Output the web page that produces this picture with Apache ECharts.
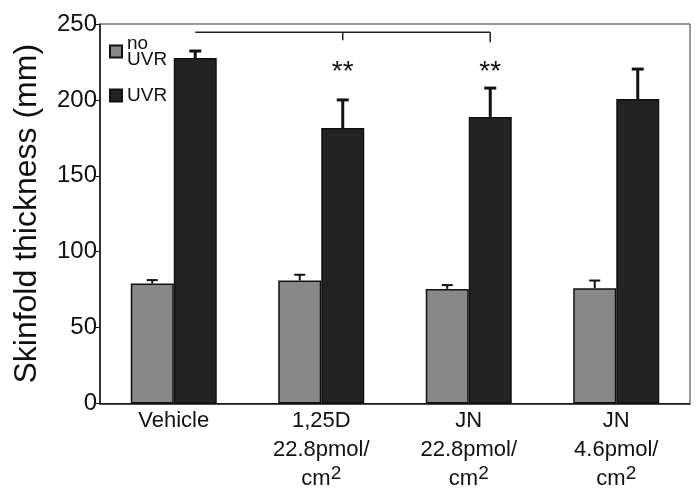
<!DOCTYPE html>
<html>
<head>
<meta charset="utf-8">
<script src="https://cdn.jsdelivr.net/npm/echarts@6/dist/echarts.min.js"></script>
<style>html,body{margin:0;padding:0;background:#fff}#c{width:700px;height:495px}</style>
</head>
<body>
<div id="c"></div>
<script>
// ---- data ----
const categories = ['Vehicle', '1,25D 22.8', 'JN 22.8', 'JN 4.6'];
const categoryLabelLines = [
  ['Vehicle'],
  ['1,25D', '22.8pmol/', 'cm|2'],
  ['JN', '22.8pmol/', 'cm|2'],
  ['JN', '4.6pmol/', 'cm|2']
];
const noUVR = [79, 81, 75.5, 76];
const noUVRsd = [2.3, 3.8, 2.5, 5];
const UVR = [227.6, 181.5, 188.8, 200.6];
const UVRsd = [4.6, 18.5, 19, 19.7];
const yTicks = [0, 50, 100, 150, 200, 250];
const bracketCats = [0, 1, 2];      // bracket spans these UVR bars
const bracketY = 244.5;
const sigCats = [1, 2];
const sigY = 218;
const sigText = '**';

// ---- styling ----
const FONT = 'Liberation Sans, Arial, sans-serif';
const BAR_W = 43;
const GRAY = '#888888';
const DARK = '#232323';

const chart = echarts.init(document.getElementById('c'));

function errRender(values, sds, sign, lw, capW) {
  return function (params, api) {
    const i = api.value(0);
    const off = sign * BAR_W / 2;
    const top = api.coord([i, values[i]]);
    const cap = api.coord([i, values[i] + sds[i]]);
    const x = top[0] + off;
    return {
      type: 'group',
      children: [
        {type: 'line', shape: {x1: x, y1: top[1], x2: x, y2: cap[1]}, style: {stroke: '#111', lineWidth: lw}},
        {type: 'line', shape: {x1: x - capW / 2, y1: cap[1], x2: x + capW / 2, y2: cap[1]}, style: {stroke: '#111', lineWidth: lw}}
      ]
    };
  };
}

function bracketRender(params, api) {
  const off = BAR_W / 2;
  const pts = bracketCats.map(c => {
    const p = api.coord([c, bracketY]);
    return [p[0] + off, p[1]];
  });
  const children = [
    {type: 'line', shape: {x1: pts[0][0], y1: pts[0][1], x2: pts[pts.length - 1][0], y2: pts[0][1]}, style: {stroke: '#222', lineWidth: 1.5}}
  ];
  pts.slice(1).forEach((p, k) => {
    children.push({type: 'line', shape: {x1: p[0], y1: p[1], x2: p[0], y2: p[1] + (k === pts.length - 2 ? 10 : 8)}, style: {stroke: '#222', lineWidth: 1.5}});
  });
  sigCats.forEach(c => {
    const p = api.coord([c, sigY]);
    children.push({type: 'text', style: {x: p[0] + off, y: p[1], text: sigText, font: '28px ' + FONT, fill: '#111', textAlign: 'center', textVerticalAlign: 'middle'}});
  });
  return {type: 'group', children};
}

chart.setOption({
  animation: false,
  textStyle: {fontFamily: FONT},
  grid: {left: 100, right: 10, top: 24, bottom: 91.5, show: true, borderColor: '#333', borderWidth: 1},
  legend: {
    orient: 'vertical', left: 104, top: 29, itemWidth: 12, itemHeight: 12, itemGap: 17,
    icon: 'rect',
    textStyle: {fontSize: 19, lineHeight: 16, color: '#111', fontFamily: FONT},
    data: ['no\nUVR', 'UVR']
  },
  xAxis: {
    type: 'category',
    data: categories,
    axisLine: {lineStyle: {color: '#111', width: 1.5}},
    axisTick: {length: 5, lineStyle: {color: '#555'}},
    axisLabel: {
      margin: 3,
      color: '#111',
      formatter: function (v, idx) {
        return categoryLabelLines[idx].map(l => {
          if (l.indexOf('|') >= 0) {
            const parts = l.split('|');
            return '{n|' + parts[0] + '}{s|' + parts[1] + '}';
          }
          return '{n|' + l + '}';
        }).join('\n');
      },
      rich: {
        n: {fontSize: 22, lineHeight: 29, color: '#111', fontFamily: FONT},
        s: {fontSize: 19, lineHeight: 19, verticalAlign: 'top', color: '#111', fontFamily: FONT}
      }
    }
  },
  yAxis: {
    type: 'value', min: 0, max: 250, interval: 50,
    name: 'Skinfold thickness (mm)', nameLocation: 'middle', nameGap: 57,
    nameTextStyle: {fontSize: 32, color: '#111', fontFamily: FONT},
    axisLine: {show: true, lineStyle: {color: '#111', width: 1.5}},
    axisTick: {show: true, length: 4, lineStyle: {color: '#111'}},
    splitLine: {show: false},
    axisLabel: {fontSize: 24, color: '#111', margin: 3, formatter: v => yTicks.indexOf(v) >= 0 ? String(v) : ''}
  },
  series: [
    {name: 'no\nUVR', type: 'bar', data: noUVR, barWidth: BAR_W, barGap: '0%',
     itemStyle: {color: GRAY, borderColor: '#111', borderWidth: 1.5}},
    {name: 'UVR', type: 'bar', data: UVR, barWidth: BAR_W, barGap: '0%',
     itemStyle: {color: DARK, borderColor: '#111', borderWidth: 1.5}},
    {type: 'custom', data: categories.map((c, i) => [i]), renderItem: errRender(noUVR, noUVRsd, -1, 2, 11), z: 5, silent: true},
    {type: 'custom', data: categories.map((c, i) => [i]), renderItem: errRender(UVR, UVRsd, 1, 3, 12), z: 5, silent: true},
    {type: 'custom', data: [[0]], renderItem: bracketRender, z: 6, silent: true}
  ]
});
</script>
</body>
</html>
